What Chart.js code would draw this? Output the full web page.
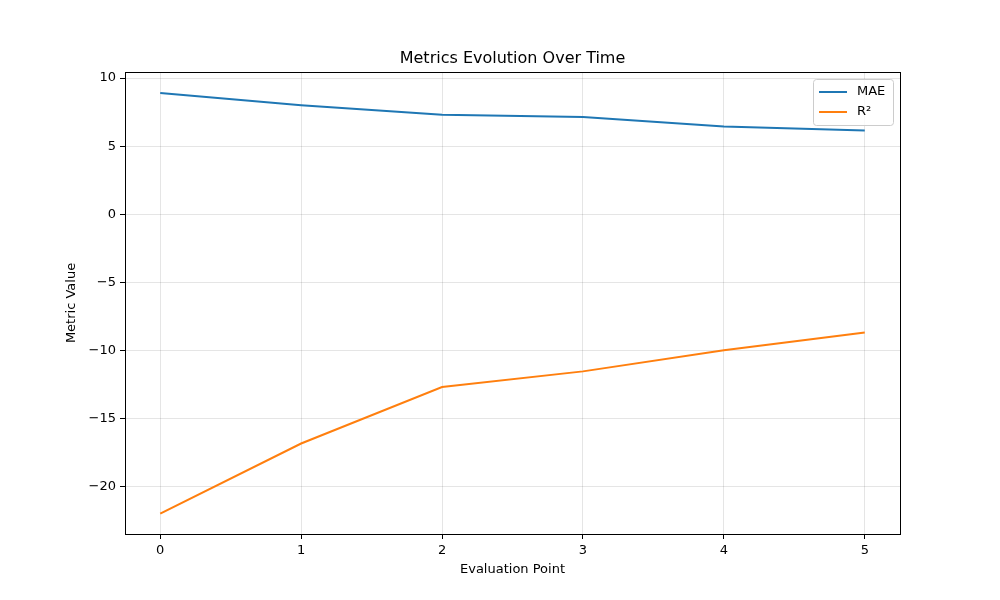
<!DOCTYPE html>
<html>
<head>
<meta charset="utf-8">
<script src="https://cdn.jsdelivr.net/npm/chart.js@4"></script>
<style>
  body { margin: 0; background: #fff; }
  #wrap { width: 1000px; height: 600px; }
</style>
</head>
<body>
<div id="wrap"><canvas id="c" width="1000" height="600"></canvas></div>
<script>
// data
const points = [0, 1, 2, 3, 4, 5];
const maeValues = [8.9, 8.0, 7.3, 7.15, 6.45, 6.15];
const r2Values = [-22.0, -16.85, -12.7, -11.55, -10.0, -8.7];
const seriesNames = ["MAE", "R²"];
const seriesColors = ["#1f77b4", "#ff7f0e"];
const yTicks = [10, 5, 0, -5, -10, -15, -20];

const toXY = (vals) => vals.map((v, i) => ({ x: points[i], y: v }));
const FONT = "DejaVu Sans";

// title, axis labels and matplotlib-like legend
const decor = {
  id: "decor",
  afterDraw(chart) {
    const { ctx, chartArea: a } = chart;
    ctx.save();
    ctx.fillStyle = "#000";
    ctx.textAlign = "center";
    ctx.textBaseline = "bottom";
    ctx.font = `16px ${FONT}`;
    ctx.fillText("Metrics Evolution Over Time", (a.left + a.right) / 2, a.top - 5);
    ctx.font = `13px ${FONT}`;
    ctx.textBaseline = "middle";
    ctx.fillText("Evaluation Point", (a.left + a.right) / 2, 570);
    ctx.translate(72, (a.top + a.bottom) / 2);
    ctx.rotate(-Math.PI / 2);
    ctx.fillText("Metric Value", 0, 0);
    ctx.restore();

    // legend box
    ctx.save();
    const w = 80, h = 46, x = a.right - w - 7, y = a.top + 7;
    ctx.fillStyle = "rgba(255,255,255,0.8)";
    ctx.strokeStyle = "#ccc";
    ctx.lineWidth = 1;
    ctx.beginPath();
    ctx.roundRect(x + 0.5, y + 0.5, w, h, 3);
    ctx.fill();
    ctx.stroke();
    ctx.font = `13px ${FONT}`;
    ctx.textAlign = "left";
    ctx.textBaseline = "middle";
    seriesNames.forEach((n, i) => {
      const ly = y + 13 + i * 20;
      ctx.strokeStyle = seriesColors[i];
      ctx.lineWidth = 2;
      ctx.beginPath();
      ctx.moveTo(x + 6, ly);
      ctx.lineTo(x + 34, ly);
      ctx.stroke();
      ctx.fillStyle = "#000";
      ctx.fillText(n, x + 44, ly);
    });
    ctx.restore();
  }
};

new Chart(document.getElementById("c"), {
  type: "line",
  data: {
    datasets: [
      { label: seriesNames[0], data: toXY(maeValues), borderColor: seriesColors[0], borderWidth: 2, pointRadius: 0, tension: 0 },
      { label: seriesNames[1], data: toXY(r2Values), borderColor: seriesColors[1], borderWidth: 2, pointRadius: 0, tension: 0 }
    ]
  },
  options: {
    responsive: false,
    animation: false,
    layout: { padding: { top: 72, right: 100, left: 0, bottom: 0 } },
    plugins: { legend: { display: false }, tooltip: { enabled: false } },
    scales: {
      x: {
        type: "linear",
        min: -0.25, max: 5.25,
        afterFit: (s) => { s.height = 66; },
        afterBuildTicks: (s) => { s.ticks = points.map((v) => ({ value: v })); },
        ticks: { color: "#000", font: { family: FONT, size: 13 }, padding: 4 },
        grid: { color: "rgba(0,0,0,0.1)", tickColor: "#000", tickLength: 5 },
        border: { color: "#000" }
      },
      y: {
        min: -23.5, max: 10.45,
        afterFit: (s) => { s.width = 125; },
        afterBuildTicks: (s) => { s.ticks = yTicks.map((v) => ({ value: v })); },
        ticks: {
          color: "#000", font: { family: FONT, size: 13 }, padding: 4,
          callback: (v) => String(v).replace("-", "\u2212")
        },
        grid: { color: "rgba(0,0,0,0.1)", tickColor: "#000", tickLength: 5 },
        border: { color: "#000" }
      }
    }
  },
  plugins: [decor, {
    id: "frame",
    afterDatasetsDraw(chart) {
      const { ctx, chartArea: a } = chart;
      ctx.save();
      ctx.strokeStyle = "#000";
      ctx.lineWidth = 1;
      ctx.strokeRect(a.left + 0.5, a.top + 0.5, a.right - a.left, a.bottom - a.top);
      ctx.restore();
    }
  }]
});
</script>
</body>
</html>
